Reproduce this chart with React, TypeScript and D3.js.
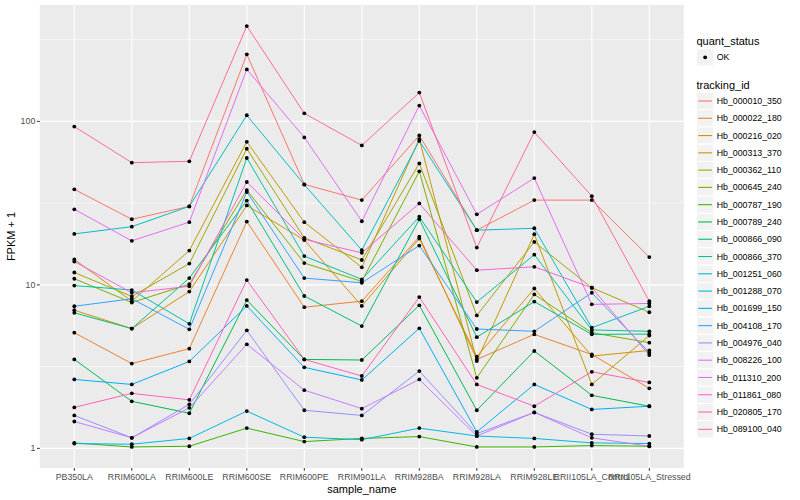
import React from "react";
import * as d3 from "d3";

const samples = [
  "PB350LA", "RRIM600LA", "RRIM600LE", "RRIM600SE", "RRIM600PE", "RRIM901LA",
  "RRIM928BA", "RRIM928LA", "RRIM928LE", "RRII105LA_Control", "RRII105LA_Stressed",
];

const trackingIds = [
  "Hb_000010_350", "Hb_000022_180", "Hb_000216_020", "Hb_000313_370", "Hb_000362_110",
  "Hb_000645_240", "Hb_000787_190", "Hb_000789_240", "Hb_000866_090", "Hb_000866_370",
  "Hb_001251_060", "Hb_001288_070", "Hb_001699_150", "Hb_004108_170", "Hb_004976_040",
  "Hb_008226_100", "Hb_011310_200", "Hb_011861_080", "Hb_020805_170", "Hb_089100_040",
];

// FPKM + 1 per sample (order of `samples`)
const hb000010_350 = [38.4, 25.2, 30.2, 257, 41.2, 33, 82, 21.6, 33, 33, 14.8];
const hb000022_180 = [5.1, 3.3, 4.07, 24.4, 7.3, 7.95, 19.7, 3.5, 4.98, 3.75, 2.33];
const hb000216_020 = [7.0, 5.4, 9.1, 30.6, 18.8, 7.43, 19.2, 3.64, 9.5, 3.67, 3.97];
const hb000313_370 = [14.3, 7.95, 16.2, 75, 24.2, 12.8, 78, 3.42, 20.4, 2.46, 4.9];
const hb000362_110 = [11.9, 8.5, 13.5, 68, 19.4, 14.2, 55.3, 6.5, 18.3, 9.6, 6.8];
const hb000645_240 = [10.9, 7.8, 10.1, 38, 13.6, 10.5, 49.5, 2.7, 8.74, 5.1, 4.43];
const hb000787_190 = [1.08, 1.02, 1.03, 1.33, 1.1, 1.15, 1.18, 1.02, 1.02, 1.04, 1.03];
const hb000789_240 = [3.5, 1.94, 1.64, 8.07, 3.5, 3.47, 7.5, 1.71, 3.94, 2.11, 1.81];
const hb000866_090 = [6.75, 5.4, 11.0, 32.8, 8.55, 5.6, 25.2, 4.79, 7.9, 4.98, 5.0];
const hb000866_370 = [9.9, 9.3, 5.78, 59.7, 15.0, 10.8, 26.1, 7.85, 15.3, 5.3, 5.2];
const hb001251_060 = [20.5, 22.7, 30.2, 109, 41, 16.3, 76, 21.6, 22.2, 5.47, 7.4];
const hb001288_070 = [1.07, 1.06, 1.15, 1.69, 1.17, 1.13, 1.33, 1.19, 1.15, 1.08, 1.07];
const hb001699_150 = [2.64, 2.46, 3.4, 7.43, 3.13, 2.62, 5.42, 1.26, 2.46, 1.73, 1.81];
const hb004108_170 = [7.4, 8.22, 5.35, 37, 11.0, 10.3, 17.4, 5.37, 5.2, 8.95, 3.85];
const hb004976_040 = [1.59, 1.16, 1.86, 5.27, 1.71, 1.59, 2.97, 1.23, 1.66, 1.22, 1.19];
const hb008226_100 = [1.46, 1.16, 1.77, 4.33, 2.27, 1.75, 2.64, 1.19, 1.66, 1.16, 1.03];
const hb011310_200 = [29, 18.6, 24.2, 208, 79.8, 24.5, 125, 27, 45, 7.6, 7.7];
const hb011861_080 = [13.9, 8.95, 9.8, 42.6, 19.0, 15.7, 31.5, 12.3, 12.9, 9.6, 3.72];
const hb020805_170 = [1.78, 2.17, 1.98, 10.7, 3.5, 2.77, 8.42, 2.46, 1.81, 2.94, 2.53];
const hb089100_040 = [93, 55.9, 57, 383, 112, 71.3, 150, 16.9, 86, 34.9, 7.95];

const seriesValues = [
  hb000010_350, hb000022_180, hb000216_020, hb000313_370, hb000362_110,
  hb000645_240, hb000787_190, hb000789_240, hb000866_090, hb000866_370,
  hb001251_060, hb001288_070, hb001699_150, hb004108_170, hb004976_040,
  hb008226_100, hb011310_200, hb011861_080, hb020805_170, hb089100_040,
];

const yTicks = [1, 10, 100];
const quantStatus = ["OK"];

const palette = [
  "#F8766D", "#EA8331", "#D89000", "#C09B00", "#A3A500", "#7CAE00", "#39B600",
  "#00BB4E", "#00BF7D", "#00C1A3", "#00BFC4", "#00BAE0", "#00B0F6", "#35A2FF",
  "#9590FF", "#C77CFF", "#E76BF3", "#FA62DB", "#FF62BC", "#FF6C91",
];

const FONT = "'Liberation Sans', Arial, Helvetica, sans-serif";

export default function App() {
  const W = 800, H = 500;
  const panelT = 5, panelB = 468;

  const x = d3.scalePoint<string>().domain(samples).range([74.3, 649.3]);
  const step = x.step();
  const panelL = (x(samples[0]) as number) - 0.6 * step;
  const panelR = (x(samples[samples.length - 1]) as number) + 0.6 * step;

  const all = seriesValues.flat();
  const lmin = Math.log10(d3.min(all) as number);
  const lmax = Math.log10(d3.max(all) as number);
  const pad = (lmax - lmin) * 0.05;
  const y = d3.scaleLog().domain([Math.pow(10, lmin - pad), Math.pow(10, lmax + pad)]).range([panelB, panelT]);

  const minorTicks = [0.5, 1.5, 2.5].map((e) => Math.pow(10, e)).filter((v) => v > y.domain()[0] && v < y.domain()[1]);

  const line = d3
    .line<number>()
    .x((_, i) => x(samples[i]) as number)
    .y((v) => y(v));

  const legX = 696.5;
  const keySize = 17.28;
  const trackStart = 101 - keySize / 2;

  return (
    <svg width={W} height={H} style={{ position: "fixed", left: 0, top: 0, background: "#fff" }} fontFamily={FONT}>
      <rect x={0} y={0} width={W} height={H} fill="#fff" />
      <rect x={panelL} y={panelT} width={panelR - panelL} height={panelB - panelT} fill="#EBEBEB" />
      {minorTicks.map((v) => (
        <line key={"mn" + v} x1={panelL} x2={panelR} y1={y(v)} y2={y(v)} stroke="#fff" strokeWidth={0.55} />
      ))}
      {yTicks.map((v) => (
        <line key={"mj" + v} x1={panelL} x2={panelR} y1={y(v)} y2={y(v)} stroke="#fff" strokeWidth={1.1} />
      ))}
      {samples.map((s) => (
        <line key={"vx" + s} x1={x(s)} x2={x(s)} y1={panelT} y2={panelB} stroke="#fff" strokeWidth={1.1} />
      ))}

      {seriesValues.map((vals, i) => (
        <path key={"l" + i} d={line(vals) || ""} fill="none" stroke={palette[i]} strokeWidth={1} />
      ))}
      {seriesValues.map((vals, i) =>
        vals.map((v, j) => (
          <circle key={"p" + i + "-" + j} cx={x(samples[j])} cy={y(v)} r={1.9} fill="#000" />
        ))
      )}

      {/* y axis */}
      {yTicks.map((v) => (
        <g key={"yt" + v}>
          <line x1={panelL - 2.8} x2={panelL} y1={y(v)} y2={y(v)} stroke="#333" strokeWidth={1} />
          <text x={panelL - 4.5} y={y(v)} dy="0.35em" textAnchor="end" fontSize={8.8} fill="#4D4D4D">
            {d3.format("d")(v)}
          </text>
        </g>
      ))}
      {/* x axis */}
      {samples.map((s) => (
        <g key={"xt" + s}>
          <line x1={x(s)} x2={x(s)} y1={panelB} y2={panelB + 2.8} stroke="#333" strokeWidth={1} />
          <text x={x(s)} y={panelB + 12} textAnchor="middle" fontSize={8.8} fill="#4D4D4D">
            {s}
          </text>
        </g>
      ))}
      <text x={(panelL + panelR) / 2} y={493} textAnchor="middle" fontSize={11} fill="#000">
        sample_name
      </text>
      <text
        transform={`translate(15, ${(panelT + panelB) / 2}) rotate(-90)`}
        textAnchor="middle"
        fontSize={11}
        fill="#000"
      >
        FPKM + 1
      </text>

      {/* legend: quant_status */}
      <text x={legX} y={44.5} fontSize={11} fill="#000">quant_status</text>
      {quantStatus.map((q, i) => (
        <g key={"qs" + q}>
          <rect x={legX} y={48.7 + i * keySize} width={keySize} height={keySize} fill="#F2F2F2" stroke="#fff" strokeWidth={1} />
          <circle cx={legX + keySize / 2} cy={48.7 + keySize / 2 + i * keySize} r={1.9} fill="#000" />
          <text x={716.7} y={48.7 + keySize / 2 + i * keySize} dy="0.35em" fontSize={8.8} fill="#000">{q}</text>
        </g>
      ))}

      {/* legend: tracking_id */}
      <text x={legX} y={88.5} fontSize={11} fill="#000">tracking_id</text>
      {trackingIds.map((t, i) => {
        const ky = trackStart + i * keySize;
        return (
          <g key={"tk" + t}>
            <rect x={legX} y={ky} width={keySize} height={keySize} fill="#F2F2F2" stroke="#fff" strokeWidth={1} />
            <line
              x1={legX + keySize * 0.1}
              x2={legX + keySize * 0.9}
              y1={ky + keySize / 2}
              y2={ky + keySize / 2}
              stroke={palette[i]}
              strokeWidth={1.1}
            />
            <text x={716.7} y={ky + keySize / 2} dy="0.35em" fontSize={8.8} fill="#000">{t}</text>
          </g>
        );
      })}
    </svg>
  );
}
